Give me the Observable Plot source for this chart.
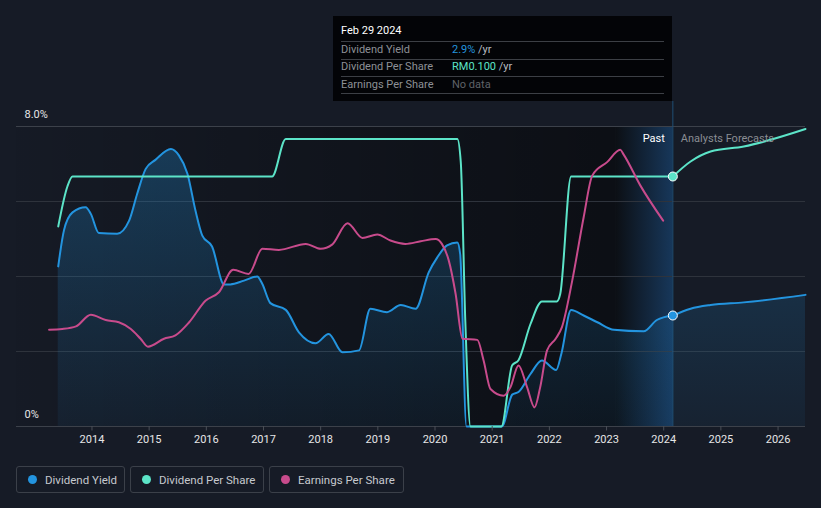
<!DOCTYPE html>
<html>
<head>
<meta charset="utf-8">
<script src="https://cdn.jsdelivr.net/npm/d3@7"></script>
<script src="https://cdn.jsdelivr.net/npm/@observablehq/plot@0.6"></script>
<style>
  html, body { margin: 0; padding: 0; background: #161b26; width: 821px; height: 508px; overflow: hidden; font-family: Roboto, "Noto Sans", sans-serif; }
  #wrap { position: relative; width: 821px; height: 508px; }
  #chart svg { display: block; }
  #tip { position: absolute; left: 333px; top: 16px; width: 339px; height: 85px; background: #030407; box-sizing: border-box; font-size: 11px; }
  #tip .title { position: absolute; left: 8px; top: 8px; color: #fff; font-size: 11px; }
  #tip .sep { position: absolute; left: 8px; width: 323px; height: 1px; background: #3c3f45; }
  #tip .lab { position: absolute; left: 8px; color: #8d9096; }
  #tip .val { position: absolute; left: 119px; color: #b9bcc1; }
  #legend { position: absolute; left: 16px; top: 466px; display: flex; gap: 5px; }
  .item { height: 27px; box-sizing: border-box; border: 1px solid #3b4049; border-radius: 3px; display: flex; align-items: center; padding: 0 0 0 11px; color: #c6c9ce; font-size: 11.5px; white-space: nowrap; overflow: hidden; }
  .item .dot { width: 9px; height: 9px; border-radius: 50%; margin-right: 8px; flex: none; }
</style>
</head>
<body>
<div id="wrap">
  <div id="chart"></div>
  <div id="tip">
    <div class="title">Feb 29 2024</div>
    <div class="sep" style="top:25px"></div>
    <div class="lab" style="top:27px">Dividend Yield</div>
    <div class="val" style="top:27px"><span style="color:#2394df">2.9%</span> /yr</div>
    <div class="sep" style="top:43px"></div>
    <div class="lab" style="top:44px">Dividend Per Share</div>
    <div class="val" style="top:44px"><span style="color:#5ce4c8">RM0.100</span> /yr</div>
    <div class="sep" style="top:60px"></div>
    <div class="lab" style="top:62px">Earnings Per Share</div>
    <div class="val" style="top:62px;color:#5f6268">No data</div>
    <div class="sep" style="top:77px"></div>
  </div>
  <div id="legend">
    <div class="item" style="width:109px"><span class="dot" style="background:#2394df"></span>Dividend Yield</div>
    <div class="item" style="width:134px"><span class="dot" style="background:#5ce4c8"></span>Dividend Per Share</div>
    <div class="item" style="width:135px"><span class="dot" style="background:#c84b8c"></span>Earnings Per Share</div>
  </div>
</div>
<script>
// ---- data (decimal year, value) ----
const dividendYieldPast = [
  [2013.41,4.27],[2013.51,5.23],[2013.66,5.71],[2013.89,5.85],[2013.98,5.67],[2014.12,5.16],[2014.44,5.14],
  [2014.65,5.49],[2014.79,6.2],[2014.94,6.87],[2015.11,7.11],[2015.38,7.4],[2015.52,7.23],[2015.67,6.74],
  [2015.81,5.76],[2015.93,5.09],[2016.10,4.8],[2016.31,3.79],[2016.42,3.79],[2016.66,3.89],[2016.89,4.0],
  [2016.98,3.8],[2017.12,3.29],[2017.39,3.11],[2017.62,2.51],[2017.91,2.22],[2018.14,2.47],[2018.38,1.98],
  [2018.67,2.03],[2018.87,3.14],[2019.16,3.05],[2019.40,3.24],[2019.66,3.14],[2019.89,4.11],[2020.04,4.51],
  [2020.21,4.83],[2020.39,4.91],[2020.44,4.6],[2020.55,0],[2021.17,0],[2021.35,0.85],[2021.46,0.92],
  [2021.67,1.4],[2021.87,1.76],[2022.12,1.51],[2022.21,1.94],[2022.38,3.11],[2022.60,2.96],[2022.84,2.78],
  [2023.13,2.58],[2023.65,2.54],[2023.88,2.84],[2024.16,2.96]
];
const dividendYieldForecast = [[2024.16,2.96],[2024.47,3.14],[2024.82,3.24],[2025.40,3.31],[2026.48,3.51]];

// Dividend per share in RM
const dpsPast = [
  [2013.41,0.080],[2013.57,0.096],[2013.66,0.100],[2017.15,0.100],[2017.39,0.115],[2020.39,0.115],
  [2020.45,0.106],[2020.53,0.042],[2020.62,0],[2021.16,0],[2021.35,0.0245],[2021.46,0.0265],[2021.67,0.041],
  [2021.87,0.050],[2022.13,0.050],[2022.19,0.053],[2022.38,0.100],[2024.16,0.100]
];
const dpsForecast = [[2024.16,0.100],[2024.47,0.106],[2024.82,0.110],[2025.40,0.112],[2026.48,0.119]];
const dpsAxisMax = 0.12; // RM at top of the axis (8.0%)

// Earnings per share, in chart axis units
const epsPast = [
  [2013.25,2.58],[2013.48,2.6],[2013.72,2.67],[2013.98,2.98],[2014.24,2.84],[2014.47,2.78],[2014.68,2.6],
  [2014.85,2.34],[2014.98,2.13],[2015.26,2.34],[2015.46,2.43],[2015.70,2.78],[2015.99,3.36],[2016.22,3.58],
  [2016.47,4.18],[2016.74,4.07],[2016.98,4.74],[2017.27,4.71],[2017.74,4.87],[2018.00,4.74],[2018.20,4.85],
  [2018.47,5.42],[2018.73,5.03],[2018.99,5.12],[2019.22,4.96],[2019.48,4.87],[2019.75,4.94],[2020.01,5.0],
  [2020.12,4.87],[2020.24,4.43],[2020.36,3.54],[2020.48,2.34],[2020.74,2.31],[2020.85,1.76],[2020.97,1.0],
  [2021.20,0.82],[2021.32,1.05],[2021.46,1.63],[2021.61,1.05],[2021.74,0.51],[2021.84,1.05],[2021.96,2.03],
  [2022.11,2.34],[2022.22,2.65],[2022.40,3.89],[2022.60,5.58],[2022.75,6.69],[2023.01,7.05],[2023.24,7.38],
  [2023.30,7.25],[2023.59,6.43],[2023.99,5.49]
];

const yearTicks = [2014,2015,2016,2017,2018,2019,2020,2021,2022,2023,2024,2025,2026];
const yTickLabels = [[0,"0%"],[8,"8.0%"]];
const gridValues = [2,4,6];
const xDomain = [2012.68, 2026.48];
const nowYear = 2024.16;
const bandStart = 2023.16;

const BLUE = "#2394df", TEAL = "#5ce4c8", PINK = "#c84b8c";
const toAxis = v => v * 8 / dpsAxisMax;
const dpsPastA = dpsPast.map(([x, v]) => [x, toAxis(v)]);
const dpsForecastA = dpsForecast.map(([x, v]) => [x, toAxis(v)]);
const areaData = dividendYieldPast.concat(dividendYieldForecast.slice(1));
const curve = "monotone-x";

const svg = Plot.plot({
  width: 821, height: 455,
  marginLeft: 16, marginRight: 16, marginTop: 126, marginBottom: 29,
  x: {domain: xDomain, axis: null},
  y: {domain: [0, 8], axis: null},
  style: {background: "transparent", fontFamily: "Roboto, 'Noto Sans', sans-serif", fontSize: "11px", color: "#e0e0e0"},
  marks: [
    Plot.rect([{a: xDomain[0], b: bandStart}], {x1: "a", x2: "b", y1: 0, y2: 8, fill: "url(#pastGrad)"}),
    Plot.rect([{a: bandStart, b: nowYear}], {x1: "a", x2: "b", y1: 0, y2: 8, fill: "url(#bandGrad)"}),
    Plot.ruleY(gridValues, {stroke: "#2e333c", strokeWidth: 1}),
    Plot.ruleY([0, 8], {stroke: "#3c414a", strokeWidth: 1}),
    Plot.ruleX([nowYear], {y1: 0, y2: 8.667, stroke: "#1f4f74", strokeWidth: 1}),
    Plot.areaY(areaData, {x: d => d[0], y: d => d[1], fill: "url(#areaGrad)", curve}),
    Plot.line(dividendYieldPast, {x: d => d[0], y: d => d[1], stroke: BLUE, strokeWidth: 2, curve}),
    Plot.line(dividendYieldForecast, {x: d => d[0], y: d => d[1], stroke: BLUE, strokeWidth: 2, curve}),
    Plot.line(dpsPastA, {x: d => d[0], y: d => d[1], stroke: TEAL, strokeWidth: 2, curve}),
    Plot.line(dpsForecastA, {x: d => d[0], y: d => d[1], stroke: TEAL, strokeWidth: 2, curve}),
    Plot.line(epsPast, {x: d => d[0], y: d => d[1], stroke: PINK, strokeWidth: 2, curve}),
    Plot.dot([[nowYear, toAxis(0.100)]], {x: d => d[0], y: d => d[1], r: 4.5, fill: TEAL, stroke: "#ffffff", strokeWidth: 1}),
    Plot.dot([dividendYieldPast[dividendYieldPast.length - 1]], {x: d => d[0], y: d => d[1], r: 4.5, fill: BLUE, stroke: "#ffffff", strokeWidth: 1}),
    Plot.ruleX(yearTicks, {x: d => d, y1: 0, y2: -0.12, stroke: "#4a4f57"}),
    Plot.text(yearTicks, {x: d => d, y: 0, dy: 13, text: d => String(d), fill: "#e6e6e6", fontSize: 11}),
    Plot.text(yTickLabels, {x: xDomain[0], y: d => d[0], text: d => d[1], dx: 8, dy: -12, textAnchor: "start", fill: "#e6e6e6", fontSize: 11}),
    Plot.text(["Past"], {x: nowYear, y: 8, text: d => d, dx: -8, dy: 12, textAnchor: "end", fill: "#ffffff", fontSize: 11}),
    Plot.text(["Analysts Forecasts"], {x: nowYear, y: 8, text: d => d, dx: 8, dy: 12, textAnchor: "start", fill: "#8a8d93", fontSize: 11})
  ]
});

const defs = d3.select(svg).insert("defs", ":first-child");
const pg = defs.append("linearGradient").attr("id", "pastGrad").attr("x1", 0).attr("x2", 1).attr("y1", 0).attr("y2", 0);
pg.append("stop").attr("offset", 0).attr("stop-color", "#000").attr("stop-opacity", 0.03);
pg.append("stop").attr("offset", 1).attr("stop-color", "#000").attr("stop-opacity", 0.46);
const bg = defs.append("linearGradient").attr("id", "bandGrad").attr("x1", 0).attr("x2", 1).attr("y1", 0).attr("y2", 0);
bg.append("stop").attr("offset", 0).attr("stop-color", "#0c0f14");
bg.append("stop").attr("offset", 1).attr("stop-color", "#17375a");
const ag = defs.append("linearGradient").attr("id", "areaGrad").attr("x1", 0).attr("x2", 0).attr("y1", 0).attr("y2", 1);
ag.append("stop").attr("offset", 0).attr("stop-color", BLUE).attr("stop-opacity", 0.28);
ag.append("stop").attr("offset", 1).attr("stop-color", BLUE).attr("stop-opacity", 0.06);

document.getElementById("chart").appendChild(svg);
</script>
</body>
</html>
